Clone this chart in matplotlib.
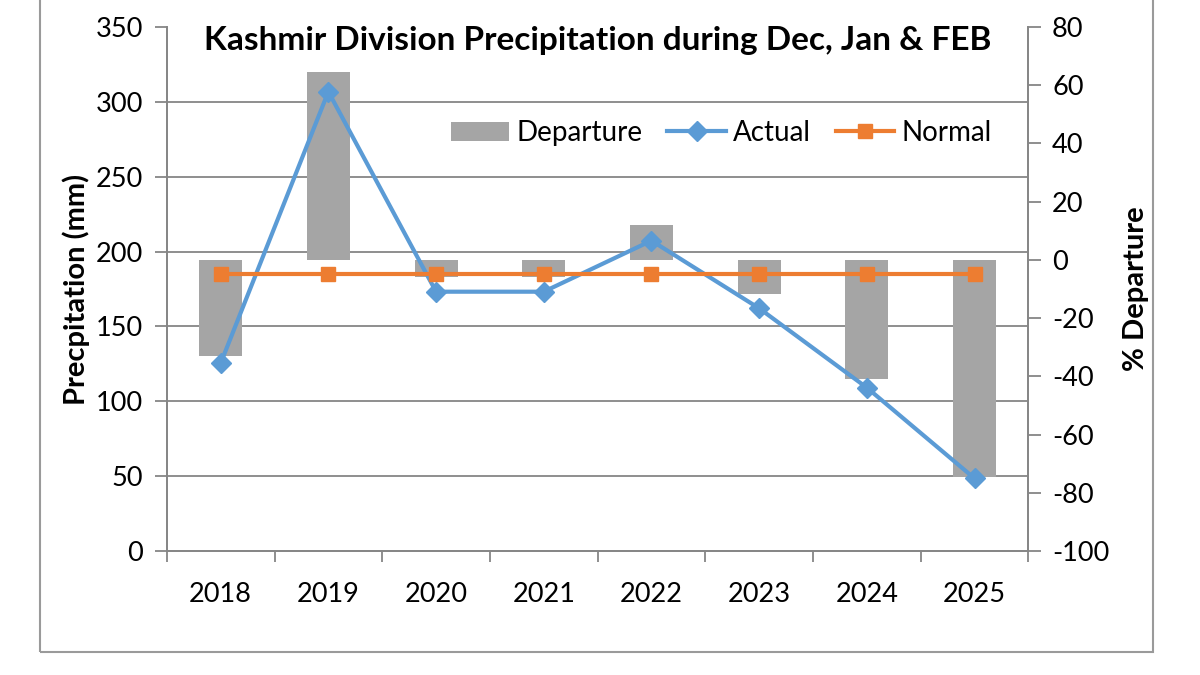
import matplotlib
matplotlib.use("Agg")
import matplotlib.pyplot as plt
from matplotlib.patches import Rectangle
from matplotlib.ticker import FixedLocator

plt.rcParams["font.family"] = ["Lato", "DejaVu Sans"]
plt.rcParams["axes.unicode_minus"] = False

# data
years = ["2018", "2019", "2020", "2021", "2022", "2023", "2024", "2025"]
actual = [125.4, 306.8, 173.2, 173.2, 207.3, 162.1, 109.1, 48.5]
normal = [185, 185, 185, 185, 185, 185, 185, 185]
departure = [-32.9, 64.7, -5.9, -5.9, 12.0, -11.8, -41.0, -74.5]

left_ticks = [0, 50, 100, 150, 200, 250, 300, 350]
right_ticks = [-100, -80, -60, -40, -20, 0, 20, 40, 60, 80]

bar_col = "#a5a5a5"
act_col = "#5b9bd5"
norm_col = "#ed7d31"
axis_col = "#868686"

fig = plt.figure(figsize=(12, 6.75), dpi=100)
ax1 = fig.add_axes([0.139, 0.1837, 0.718, 0.7763])
ax2 = ax1.twinx()

x = list(range(len(years)))

ax1.set_ylim(0, 350)
ax2.set_ylim(-100, 80)
ax1.set_xlim(-0.5, len(years) - 0.5)

# grid drawn under the bars: put it on the right axis at the left-axis tick heights
lo1, hi1 = ax1.get_ylim()
lo2, hi2 = ax2.get_ylim()
grid_pos = [lo2 + (v - lo1) * (hi2 - lo2) / (hi1 - lo1) for v in left_ticks]
ax2.yaxis.set_minor_locator(FixedLocator(grid_pos))
ax2.grid(True, which="minor", axis="y", color=axis_col, linewidth=1.3)
ax2.tick_params(axis="y", which="minor", length=0)

bars = ax2.bar(x, departure, width=0.4, color=bar_col, label="Departure", zorder=2)
l_act, = ax2.plot(x, actual, color=act_col, lw=3, marker="D", ms=10, label="Actual",
                  transform=ax1.transData, zorder=3)
l_norm, = ax2.plot(x, normal, color=norm_col, lw=3, marker="s", ms=10, label="Normal",
                   transform=ax1.transData, zorder=4)
ax2.set_ylim(-100, 80)

ax1.set_yticks(left_ticks)
ax2.set_yticks(right_ticks)
ax1.set_xticks(x)
ax1.set_xticklabels(years)
ax1.xaxis.set_minor_locator(FixedLocator([i - 0.5 for i in range(len(years) + 1)]))
ax1.tick_params(axis="x", which="major", length=0, labelsize=19.5, pad=22)
ax1.tick_params(axis="x", which="minor", length=8, width=1.3, color=axis_col, direction="out")
ax1.tick_params(axis="y", length=9, width=1.3, color=axis_col, labelsize=19.5, pad=8)
ax2.tick_params(axis="y", which="major", length=9, width=1.3, color=axis_col, labelsize=19.5, pad=8)

for a in (ax1, ax2):
    a.spines["top"].set_visible(False)
    for s in ("left", "right", "bottom"):
        a.spines[s].set_color(axis_col)
        a.spines[s].set_linewidth(1.3)

ax1.set_ylabel("Precpitation (mm)", fontsize=21, fontweight="bold", labelpad=4)
ax2.set_ylabel("% Departure", fontsize=21, fontweight="bold", labelpad=10)

ax1.set_title("Kashmir Division Precipitation during Dec, Jan & FEB",
              fontsize=24, fontweight="bold", y=0.94, x=0.5)

ax2.legend([bars, l_act, l_norm], ["Departure", "Actual", "Normal"],
           loc="center", bbox_to_anchor=(0.601, 0.803), bbox_transform=fig.transFigure,
           ncol=3, frameon=False, fontsize=20, handlelength=2.1, handletextpad=0.25,
           columnspacing=0.9)

# outer chart border
fig.patches.append(Rectangle((40 / 1200, 23 / 675), 1113 / 1200, 1.1, transform=fig.transFigure,
                             fill=False, edgecolor="#9a9a9a", lw=1.5, clip_on=False))

fig.savefig("out.png", dpi=100)
